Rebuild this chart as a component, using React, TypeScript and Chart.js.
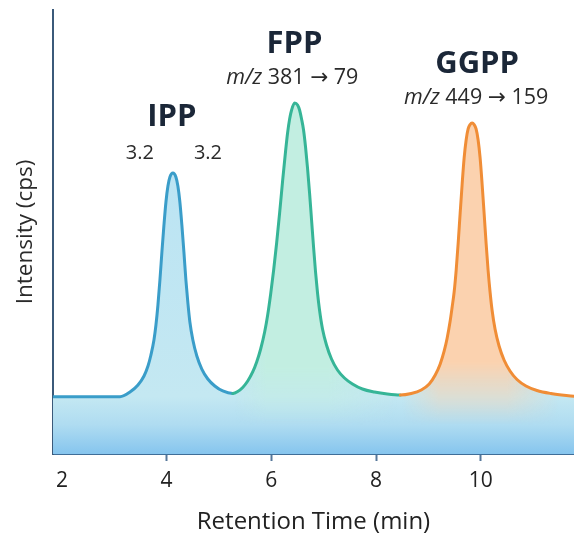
import { useEffect, useRef } from 'react';
import { Chart, registerables } from 'chart.js';

Chart.register(...registerables);

// ---- data ----
const tickValues = [2, 4, 6, 8, 10];

const ippTime = [1.83, 3.11, 3.3, 3.453, 3.568, 3.644, 3.7, 3.758, 3.796, 3.834, 3.872, 3.91, 3.949, 3.987, 4.025, 4.063, 4.12, 4.177, 4.215, 4.253, 4.291, 4.33, 4.368, 4.406, 4.444, 4.501, 4.577, 4.672, 4.787, 4.92, 5.072, 5.263];
const ippIntensity = [12.91, 12.91, 13.96, 15.54, 17.57, 19.82, 22.3, 25.68, 29.05, 33.56, 39.19, 45.5, 51.58, 56.76, 60.36, 62.39, 63.29, 62.39, 60.36, 56.76, 51.58, 45.5, 39.19, 34.01, 29.73, 25.68, 22.07, 19.14, 16.89, 15.32, 14.19, 13.63];

const fppTime = [5.358, 5.453, 5.549, 5.644, 5.72, 5.796, 5.872, 5.93, 5.987, 6.044, 6.101, 6.158, 6.215, 6.272, 6.31, 6.349, 6.387, 6.444, 6.501, 6.539, 6.577, 6.615, 6.653, 6.691, 6.73, 6.768, 6.806, 6.844, 6.882, 6.92, 6.977, 7.053, 7.149, 7.263, 7.396, 7.549, 7.739, 7.968, 8.215, 8.463];
const fppIntensity = [14.08, 14.98, 16.44, 18.47, 20.72, 23.65, 27.48, 31.31, 36.04, 41.44, 47.52, 54.28, 61.49, 68.24, 72.3, 75.45, 77.48, 79.05, 78.6, 77.48, 75.45, 72.97, 69.14, 64.41, 58.78, 52.7, 46.62, 40.99, 36.26, 32.43, 28.15, 24.55, 21.4, 18.92, 17.12, 15.77, 14.64, 13.96, 13.51, 13.29];

const ggppTime = [8.672, 8.863, 9.015, 9.13, 9.225, 9.301, 9.358, 9.415, 9.453, 9.491, 9.53, 9.568, 9.606, 9.644, 9.682, 9.72, 9.758, 9.796, 9.834, 9.872, 9.91, 9.949, 9.987, 10.025, 10.063, 10.101, 10.139, 10.177, 10.215, 10.272, 10.349, 10.444, 10.558, 10.691, 10.863, 11.072, 11.339, 11.78];
const ggppIntensity = [13.63, 14.41, 15.77, 17.79, 20.27, 23.2, 26.13, 29.95, 33.11, 36.49, 41.44, 47.52, 54.28, 60.81, 66.67, 70.72, 73.2, 74.21, 74.55, 74.21, 73.2, 70.72, 66.67, 60.81, 54.28, 47.52, 41.44, 36.49, 32.43, 28.15, 24.32, 21.17, 18.69, 16.78, 15.32, 14.3, 13.63, 13.0];

const baselineLevel = 12.9;

const peakNames = ['IPP', 'FPP', 'GGPP'];
const peakTransitions = ['', '381 → 79', '449 → 159'];
const ippSideLabels = ['3.2', '3.2'];

// ---- label placement (data units) ----
const placement = {
  nameTime: [4.1, 6.44, 9.93],
  nameLevel: [75.9, 92.3, 87.8],
  mzTime: [0, 6.4, 9.91],
  mzLevel: [0, 84.7, 80.2],
  sideTime: [3.49, 4.79],
  sideLevel: 67.8,
};

const FONT = '"Open Sans", "Noto Sans", "DejaVu Sans", sans-serif';
const BLUE = '#3a9dc9';
const TEAL = '#36b597';
const ORANGE = '#f08d36';

function tint(
  c: CanvasRenderingContext2D, w: number, h: number, xs: any,
  fromT: number, fullL: number, fullR: number, toT: number,
  rgb: string, fadeStartY: number, fadeEndY: number
) {
  const t = document.createElement('canvas');
  t.width = w; t.height = h;
  const tc = t.getContext('2d')!;
  const p = (v: number) => xs.getPixelForValue(v);
  const x0 = p(fromT), x3 = p(toT);
  const span = x3 - x0;
  const hg = tc.createLinearGradient(x0, 0, x3, 0);
  hg.addColorStop(0, `rgba(${rgb},0)`);
  hg.addColorStop((p(fullL) - x0) / span, `rgba(${rgb},1)`);
  hg.addColorStop((p(fullR) - x0) / span, `rgba(${rgb},1)`);
  hg.addColorStop(1, `rgba(${rgb},0)`);
  tc.fillStyle = hg;
  tc.fillRect(0, 0, w, h);
  tc.globalCompositeOperation = 'destination-in';
  const vg = tc.createLinearGradient(0, fadeStartY, 0, fadeEndY);
  vg.addColorStop(0, 'rgba(0,0,0,1)');
  vg.addColorStop(1, 'rgba(0,0,0,0)');
  tc.fillStyle = vg;
  tc.fillRect(0, 0, w, h);
  c.drawImage(t, 0, 0);
}

function makeFill(chart: any) {
  const area = chart.chartArea;
  if (!area) return 'rgba(190,230,245,1)';
  const xs = chart.scales.x, ys = chart.scales.y;
  const w = Math.ceil(chart.width), h = Math.ceil(chart.height);
  const off = document.createElement('canvas');
  off.width = w; off.height = h;
  const c = off.getContext('2d')!;
  const base = ys.getPixelForValue(baselineLevel);
  const top = area.top, bot = area.bottom;
  const f = (y: number) => Math.min(1, Math.max(0, (y - top) / (bot - top)));
  const g = c.createLinearGradient(0, top, 0, bot);
  g.addColorStop(0, '#b5e1f4');
  g.addColorStop(f(base), '#c4e8f2');
  g.addColorStop(f(base + 28), '#afdcf1');
  g.addColorStop(1, '#86c5ee');
  c.fillStyle = g;
  c.fillRect(0, 0, w, h);
  tint(c, w, h, xs, 5.3, 5.9, 7.1, 8.4, '194,238,225', base - 30, base + 28);
  tint(c, w, h, xs, 8.5, 9.2, 10.5, 11.5, '251,210,175', base - 35, base + 28);
  return c.createPattern(off, 'no-repeat');
}

const labelsPlugin = {
  id: 'peakLabels',
  afterDatasetsDraw(chart: any) {
    const { ctx, scales } = chart;
    const xs = scales.x, ys = scales.y;
    ctx.save();
    ctx.textBaseline = 'middle';
    ctx.textAlign = 'center';
    peakNames.forEach((name, i) => {
      ctx.fillStyle = '#1b2738';
      ctx.font = `bold 31px ${FONT}`;
      ctx.fillText(name, xs.getPixelForValue(placement.nameTime[i]), ys.getPixelForValue(placement.nameLevel[i]));
    });
    peakTransitions.forEach((tr, i) => {
      if (!tr) return;
      const cx = xs.getPixelForValue(placement.mzTime[i]);
      const cy = ys.getPixelForValue(placement.mzLevel[i]);
      ctx.fillStyle = '#2a2a2a';
      const a = 'm/z ';
      ctx.font = `italic 21.5px ${FONT}`;
      const wa = ctx.measureText(a).width;
      ctx.font = `21.5px ${FONT}`;
      const wb = ctx.measureText(tr).width;
      const x0 = cx - (wa + wb) / 2;
      ctx.textAlign = 'left';
      ctx.font = `italic 21.5px ${FONT}`;
      ctx.fillText(a, x0, cy);
      ctx.font = `21.5px ${FONT}`;
      ctx.fillText(tr, x0 + wa, cy);
      ctx.textAlign = 'center';
    });
    ctx.fillStyle = '#2a2a2a';
    ctx.font = `20px ${FONT}`;
    ippSideLabels.forEach((s, i) => {
      ctx.fillText(s, xs.getPixelForValue(placement.sideTime[i]), ys.getPixelForValue(placement.sideLevel));
    });
    ctx.restore();
  },
};

export default function App() {
  const ref = useRef<HTMLCanvasElement | null>(null);
  useEffect(() => {
    if (!ref.current) return;
    const ippEnd = ippTime[ippTime.length - 1];
    const fppEnd = fppTime[fppTime.length - 1];
    const points = [
      ...ippTime.map((t, i) => ({ x: t, y: ippIntensity[i] })),
      ...fppTime.map((t, i) => ({ x: t, y: fppIntensity[i] })),
      ...ggppTime.map((t, i) => ({ x: t, y: ggppIntensity[i] })),
    ];
    const chart = new Chart(ref.current, {
      type: 'line',
      data: {
        datasets: [
          {
            data: points,
            borderColor: BLUE,
            borderWidth: 3,
            borderCapStyle: 'round',
            borderJoinStyle: 'round',
            pointRadius: 0,
            cubicInterpolationMode: 'monotone',
            fill: false,
            segment: {
              borderColor: (ctx: any) => {
                const x = ctx.p0.parsed.x;
                return x < ippEnd ? BLUE : x < fppEnd ? TEAL : ORANGE;
              },
            },
          } as any,
          {
            data: points,
            borderWidth: 0,
            borderColor: 'rgba(0,0,0,0)',
            pointRadius: 0,
            cubicInterpolationMode: 'monotone',
            fill: 'origin',
            backgroundColor: (ctx: any) => makeFill(ctx.chart),
          } as any,
        ],
      },
      options: {
        animation: false,
        responsive: true,
        maintainAspectRatio: false,
        layout: { padding: { top: 10, right: 0, left: 0, bottom: 0 } },
        plugins: { legend: { display: false }, tooltip: { enabled: false } },
        scales: {
          x: {
            type: 'linear',
            min: 1.83,
            max: 11.78,
            afterBuildTicks: (s: any) => {
              s.ticks = tickValues.map((v) => ({ value: v }));
            },
            afterFit: (s: any) => {
              s.height = 95;
            },
            grid: {
              display: true,
              drawOnChartArea: false,
              drawTicks: true,
              tickLength: 7,
              tickWidth: 2,
              tickColor: (ctx: any) => (ctx.tick && ctx.tick.value === 2 ? 'rgba(0,0,0,0)' : '#55779a'),
            },
            border: { display: true, color: '#3f6e98', width: 2 },
            ticks: {
              color: '#222',
              font: { family: FONT, size: 21 },
              padding: 7,
              maxRotation: 0,
              autoSkip: false,
            },
            title: {
              display: true,
              text: 'Retention Time (min)',
              color: '#222',
              font: { family: FONT, size: 24 },
              padding: { top: 0, bottom: 12 },
            },
          },
          y: {
            min: 0,
            max: 100,
            ticks: { display: false },
            grid: { display: false },
            border: { display: true, color: '#3b5a7a', width: 2 },
            afterFit: (s: any) => {
              s.width = 53;
            },
            title: {
              display: true,
              text: 'Intensity (cps)',
              color: '#2a2a2a',
              font: { family: FONT, size: 22.5 },
              padding: { top: 12, bottom: 0 },
            },
          },
        },
      } as any,
      plugins: [labelsPlugin],
    });
    return () => chart.destroy();
  }, []);

  return (
    <div style={{ position: 'fixed', left: 0, top: 0, width: 574, height: 549, background: '#fff' }}>
      <canvas ref={ref} />
    </div>
  );
}
